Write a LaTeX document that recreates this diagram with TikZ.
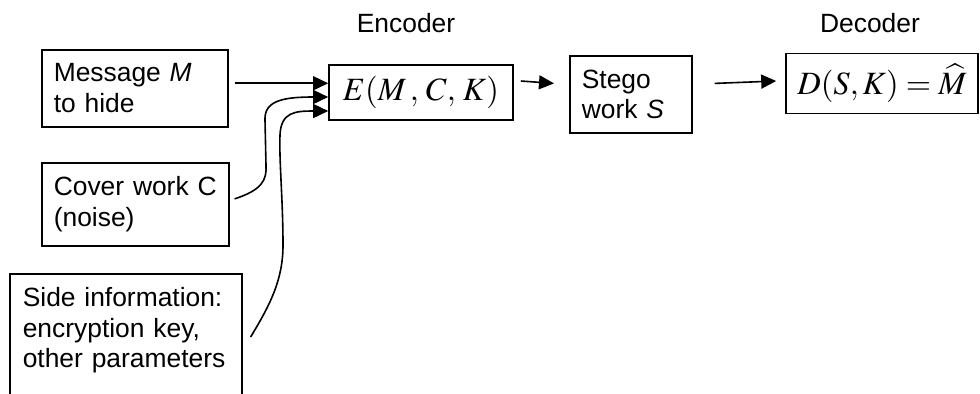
\documentclass[tikz,border=0pt]{standalone}
\usepackage{mathptmx}
\usepackage[no-math]{fontspec}
\setmainfont{Liberation Sans}
\usepackage{tikz}
\usetikzlibrary{arrows.meta, calc}

\tikzset{
  box/.style={draw, line width=0.8pt, align=left, anchor=north west,
    inner xsep=5pt, inner ysep=7pt, font=\fontsize{13.2}{15.25}\selectfont},
  mathbox/.style={draw, line width=0.8pt, inner sep=0pt,
    font=\fontsize{16.25}{18}\selectfont},
  title/.style={font=\fontsize{13.2}{15}\selectfont},
  arr/.style={line width=0.8pt, -{Triangle[length=7.5pt, width=7pt]}}
}

\begin{document}
\begin{tikzpicture}[x=0.5pt, y=-0.5pt]
    \useasboundingbox (0,0) rectangle (980,393);

    % Inputs
    \node[box, text width=83pt, minimum height=37pt] (msg) at (41,49)
      {\hspace{1pt}Message \textit{M}\\ \hspace{1pt}to hide};
    \node[box, text width=83.5pt, minimum height=36.5pt] (cover) at (41,162)
      {\hspace{1pt}Cover work C\\ \hspace{1pt}(noise)};
    \node[box, text width=106pt] (side) at (9,273)
      {\hspace{1.5pt}Side information:\\ \hspace{1.5pt}encryption key,\\
       \hspace{1.5pt}other parameters\\ ~};

    % Encoder
    \node[title] (enclabel) at (406,23) {Encoder};
    \node[mathbox, minimum width=92pt, minimum height=27.5pt] (enc) at (421,92.5)
      {$E(M\,,\,C,\,K)$};

    % Stego work
    \node[box, text width=51pt, minimum height=37pt] (stego) at (569,55)
      {\hspace{1pt}Stego\\ \hspace{1pt}work \textit{S}};

    % Decoder
    \node[title] (declabel) at (870,23) {Decoder};
    \node[mathbox, minimum width=96pt, minimum height=30pt] (dec) at (882,83.5)
      {$D(S,K)=\widehat{M}$};

    % Connectors
    \draw[arr] ([shift={(3pt,2.5pt)}]msg.east) -- ([yshift=2.5pt]msg.east -| enc.west);
    \draw[arr] ([shift={(2.5pt,2.75pt)}]cover.east)
      .. controls (262,190) and (267,180) .. (266,165)
      -- (265,120) .. controls (264,100) and (285,97) .. ([yshift=-2.25pt]enc.west);
    \draw[arr] ([shift={(4pt,-32pt)}]side.north east)
      .. controls (270,305) and (283,280) .. (283,245)
      .. controls (283,200) and (279,160) .. (280,135)
      .. controls (281,112) and (295,111) .. ([yshift=-9.25pt]enc.west);
    \draw[arr] ([shift={(3.5pt,5.75pt)}]enc.east) -- ([shift={(-7.5pt,5.5pt)}]stego.west);
    \draw[arr] ([shift={(11pt,5.5pt)}]stego.east) -- ([shift={(-4.5pt,1.25pt)}]dec.west);
\end{tikzpicture}
\end{document}
